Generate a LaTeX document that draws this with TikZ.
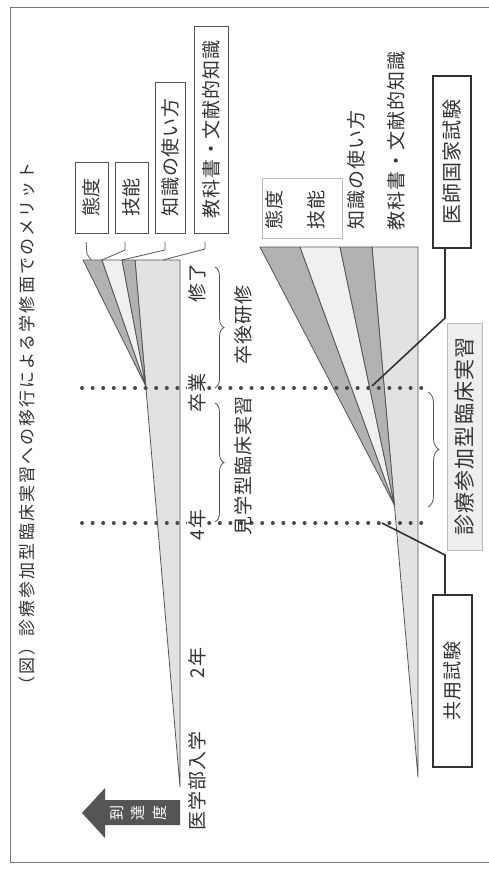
\documentclass[tikz,border=0pt]{standalone}
\usepackage{fontspec}
\setmainfont{Noto Sans CJK JP}[LetterSpace=5]
\newfontfamily\titlefont{Noto Sans CJK JP}[LetterSpace=12]
\usetikzlibrary{calc,decorations.pathreplacing}
\definecolor{edge}{HTML}{555555}
\definecolor{darkw}{HTML}{B2B2B2}
\definecolor{lightw}{HTML}{F0F0F0}
\definecolor{basew}{HTML}{E2E2E2}
\definecolor{framec}{HTML}{777777}
\definecolor{ink}{HTML}{333333}
\definecolor{dotc}{HTML}{484848}
\definecolor{softbox}{HTML}{BBBBBB}
\definecolor{softfill}{HTML}{EEEEEE}
\definecolor{arrowc}{HTML}{555555}
\begin{document}
\begin{tikzpicture}[x=1pt,y=-1pt,
  lbl/.style={rotate=90, inner sep=0pt, text=ink, font=\fontsize{19}{19}\selectfont},
  kbox/.style={lbl, draw=edge, line width=0.8pt, fill=white},
  exambox/.style={lbl, draw=ink, line width=1.8pt, fill=white},
  wedge/.style={draw=edge, line width=0.8pt, line join=round},
  tline/.style={draw=edge, line width=0.8pt},
  conn/.style={draw=ink, line width=1.6pt},
  dots/.style={draw=dotc, line width=4pt, line cap=round, dash pattern=on 0pt off 10.6pt},
  bracestyle/.style={draw=edge, line width=0.8pt, decorate, decoration={brace, amplitude=9pt}},
]
\useasboundingbox (0,0) rectangle (489,872);
\fill[white] (0,0) rectangle (489,872);
\draw[framec, line width=0.9pt] (489,7) -- (10,7) -- (10,862) -- (489,862);

% title
\node[lbl, font=\titlefont\fontsize{17}{17}\selectfont] (title) at (27,428) {（図）診療参加型臨床実習への移行による学修面でのメリット};

% upper wedges
\coordinate (ub) at (180,787);
\coordinate (ut) at (135,260);
\coordinate (ur) at (180,260);
\coordinate (P1) at ($(ub)!0.761!(ut)$);
\filldraw[wedge, fill=basew] (ub) -- (ut) -- (ur) -- cycle;
\filldraw[wedge, fill=darkw] (P1) -- (83,260) -- (102,260) -- cycle;
\filldraw[wedge, fill=lightw] (P1) -- (102,260) -- (122,260) -- cycle;
\filldraw[wedge, fill=darkw] (P1) -- (122,260) -- (135,260) -- cycle;

% lower wedges
\coordinate (lb) at (418,777);
\coordinate (lt) at (372,247);
\coordinate (lr) at (418,247);
\coordinate (P2) at ($(lb)!0.513!(lt)$);
\filldraw[wedge, fill=basew] (lb) -- (lt) -- (lr) -- cycle;
\filldraw[wedge, fill=darkw] (P2) -- (260,247) -- (300,247) -- cycle;
\filldraw[wedge, fill=lightw] (P2) -- (300,247) -- (340,247) -- cycle;
\filldraw[wedge, fill=darkw] (P2) -- (340,247) -- (372,247) -- cycle;

% dotted time lines
\draw[dots] (82,388) -- (426,388);
\draw[dots] (82,523) -- (426,523);

% upper knowledge boxes
\node[kbox, minimum width=71pt, minimum height=33pt] (taido) at (91.5,197.5) {態度};
\node[kbox, minimum width=71pt, minimum height=33pt] (gino) at (131.5,197.5) {技能};
\node[kbox, minimum width=151pt, minimum height=30pt] (chishiki) at (170,157.5) {知識の使い方};
\node[kbox, minimum width=207pt, minimum height=34pt] (kyokasho) at (211,129.5) {教科書・文献的知識};

\draw[tline] (86,242) -- (87,254) -- (91,260);
\draw[tline] (125,242) -- (125,250) -- (102,260);
\draw[tline] (165,242) -- (165,250) -- (122,260);
\draw[tline] (205,242) -- (205,249) -- (163,260);

% time labels
\node[lbl] (shuryo) at (197,283) {修了};
\node[lbl, fill=white, inner sep=1pt] (sotsugyo) at (197,393) {卒業};
\node[lbl, fill=white, inner sep=1pt] (yonen) at (197,525) {4年};
\node[lbl] (ninen) at (197,663) {2年};
\node[lbl] (nyugaku) at (197,781) {医学部入学};

% braces upper
\draw[bracestyle] (215,267) -- (215,388);
\node[lbl] (sotsugo) at (243,325) {卒後研修};
\draw[bracestyle] (215,403) -- (215,522);
\node[lbl] (kengaku) at (243,466) {見学型臨床実習};

% lower labels
\node[draw=softbox, line width=0.8pt, fill=white, rotate=90, minimum width=60pt, minimum height=80pt, inner sep=0pt] (tgbox) at (302,208) {};
\node[lbl] (taido2) at (274,210) {態度};
\node[lbl] (gino2) at (316,210) {技能};
\node[lbl] (chishiki2) at (356,170) {知識の使い方};
\node[lbl] (kyokasho2) at (396,141) {教科書・文献的知識};

% exams
\node[exambox, minimum width=172pt, minimum height=38pt, font=\fontsize{20}{20}\selectfont] (kokushi) at (452,162) {医師国家試験};
\node[exambox, minimum width=172pt, minimum height=39pt] (kyoyo) at (452.5,681) {共用試験};
\coordinate (k1) at (445,318);
\coordinate (k2) at (372,386);
\draw[conn] (k1 |- kokushi.west) -- (k1) -- (k2);
\coordinate (c1) at (445,555);
\coordinate (c2) at (382,523);
\draw[conn] (c1 |- kyoyo.east) -- (c1) -- (c2);

% lower brace and clinical clerkship
\draw[bracestyle, decoration={brace, amplitude=11pt}] (428,392) -- (428,507);
\node[lbl, draw=softbox, fill=softfill, line width=0.8pt, minimum width=227pt, minimum height=35pt, font=\fontsize{21}{21}\selectfont] (shinryo) at (464.5,436.5) {診療参加型臨床実習};

% arrow
\fill[arrowc] (82,813) -- (105,788) -- (105,800) -- (180,800) -- (180,825) -- (105,825) -- (105,838) -- cycle;
\node[lbl, text=white, font=\fontsize{15}{15}\selectfont] (a1) at (117,812.5) {到};
\node[lbl, text=white, font=\fontsize{15}{15}\selectfont] (a2) at (138,812.5) {達};
\node[lbl, text=white, font=\fontsize{15}{15}\selectfont] (a3) at (160,812.5) {度};
\end{tikzpicture}
\end{document}
